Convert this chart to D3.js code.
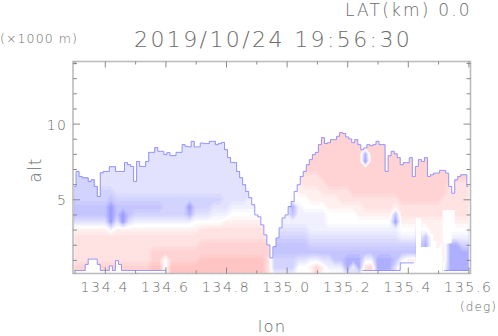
<!DOCTYPE html>
<html>
<head>
<meta charset="utf-8">
<script src="https://cdn.jsdelivr.net/npm/d3@7"></script>
<style>
html, body { margin: 0; padding: 0; background: #fff; }
svg { display: block; }
text { font-family: "DejaVu Sans", sans-serif; font-weight: 200; fill: #6a6a6a; opacity: 0.99; }
</style>
</head>
<body>
<div id="chart"></div>
<script>
// ---- tick labels / titles
const lonTicks = [134.4, 134.6, 134.8, 135.0, 135.2, 135.4, 135.6]
const lonMinor = [134.3, 134.5, 134.7, 134.9, 135.1, 135.3, 135.5]
const altTicks = [5, 10]
const altMinor = [1, 2, 3, 4, 6, 7, 8, 9, 11, 12, 13, 14]

// ---- columns of the shaded field (deg) and its rows (x1000 m)
const fieldLon = [134.30,134.32,134.34,134.36,134.38,134.40,134.42,134.44,134.46,134.48,134.50,134.52,134.54,134.56,134.58,134.60,134.62,134.64,134.66,134.68,134.70,134.72,134.74,134.76,134.78,134.80,134.82,134.84,134.86,134.88,134.90,134.92,134.94,
  134.96,134.98,135.00,135.02,135.04,135.06,135.08,135.10,135.12,135.14,135.16,135.18,135.20,135.22,135.24,135.26,135.28,135.30,135.32,135.34,135.36,135.38,135.40,135.42,135.44,135.46,135.48,135.50,135.52,135.54,135.56,135.58,135.60]
const fieldAlt = [0,0.5,1,1.5,2,2.5,3,3.5,4,4.5,5,5.5,6,6.5,7,7.5,8,8.5,9,9.5]

// ---- field values, one list per altitude, negative = blue, positive = red
const alt00 = [3,3,3,3,3,3,3,3,3,3,3,3,3,4,4,0,4,4,4,4,4,4,4,4,4,4,4,4,4,4,4,4,2,
  -1,-1,-1,-1,0,0,0,3,0,0,0,0,-2,-2,-2,2,2,-4,-4,-4,0,2,0,0,0,0,0,0,0,-5,-5,-5,-5]
const alt05 = [3,3,3,3,3,3,3,3,3,3,3,3,3,4,4,0,4,4,4,4,4,4,4,4,4,4,4,4,4,4,4,4,2,
  -3,-3,-3,-3,0,0,1,3,1,-1,-1,-1,-5,-1,-5,2,3,-5,-5,-5,-2,2,0,0,0,0,0,0,0,-5,-5,-5,-5]
const alt10 = [2,2,2,2,2,2,2,2,2,2,2,2,2,3,3,0,3,3,3,3,3,4,4,4,4,4,4,4,4,4,4,4,2,
  -3,-3,-3,-3,-2,-2,-1,-1,-2,-2,-4,-4,-5,-5,-5,-1,-1,-5,-5,-5,-4,-1,1,1,1,1,1,1,1,-5,-5,-5,-5]
const alt15 = [2,2,2,2,2,2,2,2,2,2,2,2,2,3,3,3,3,3,3,3,3,3,3,3,3,3,3,3,3,3,3,3,3,
  -4,-4,-4,-4,-4, -4,-4,-4,-4,-4, -4,-4,-4,-4,-4, -4,-4,-4,-4,-4, -4,-4,-4,-4,-4, -5,1,1,1,-5,-5,-5,-5]
const alt20 = [2,2,2,2,2,2,2,2,2,2,2,2,2,2,2,2,2,2,2,2,2,3,3,3,3,3,3,3,3,3,3,3,3,
  -4,-4,-4,-4,-4,-4, -3,-3,-3,-3,-3, -3,-3,-3,-3,-3, -3,-3,-3,-3,-3, -3,-3,-3,-3, -5,1,1,1,-5,-5,-3,-3]
const alt25 = [2,2,2,2,2,2,2,2,2,2,2,2,2,2,2,2,2,2,2,2,2,2,2,2,2,2,2,2,2,2,2,2,2,
  -3,-3,-3,-3,-3,-3, -2,-2,-2,-2,-2, -2,-2,-2,-2,-2, -2,-2,-2,-2,-2, -1,-1,-1,-1, -4,1,1,1,-1,-1,-1,-1]
const alt30 = [1,1,1,1,1,1,-1,1,1,1,1,1,1,1,1,1,1,1,1,1,1,2,2,2,2,2,2,2,2,2,2,2,2,
  -2,-2,-2,-2,-2,-2, -1,-1,-1,-1,-1, -1,-1,-1,-1,-1, -1,-1,-1,-1,-1, 0,0,0,0,0, 1,1,1,0,0,0,0]
const alt35 = [-2,-2,-2,-2,-2,-2,-6,-2,-6,-2,-1,-1,-1,-1,-1,-1,-1,-1,-1,-1,0,0,0,0,0,1,1,1,1,1,1,1,1,
  -1,-1,-1,-1,-1,-1,-1,-1,-1, 0,0,0,0,0,0,0,0,0,0,0, -6, 1,1,1,1,1,1,1,1,1,1,1,1]
const alt40 = [-4,-4,-4,-4,-4,-4,-6,-4,-6,-4,-3,-3,-3,-3,-3,-3,-3,-3,-3,-5,-2,-2,-2,-1,-1,-1,0,0,0,0,0,0,0,
  -1,-1,-1,-4,-1,-1,-1,-1,-1, 0,0,0,0,0, 1,1,1,1,1,1, -4, 2,2,2,2,2,2,2,2,2,2,2,2]
const alt45 = [-4,-4,-4,-4,-4,-4,-6,-4,-4,-4,-4,-4,-4,-4,-4,-3,-3,-3,-3,-6,-3,-3,-3,-2,-2,-2,-1,-1,-1,-1,-1,-1,-1,
  -1,-1,-1,-5,-1, 0,0,0,0, 1,1,1,1,1,1, 2,2,2,2,2, 1, 2,2,2,2,2,2,2,2,2,2,2,2]
const alt50 = [-3,-3,-3,-3,-3,-3,-4,-3,-3,-3,-3,-3,-3,-3,-3,-3,-3,-3,-3,-3,-3,-3,-3,-3,-3,-2,-2,-2,-2,-1,-1,-1,-1,
  -1,-1,-1, 0,0,0, 1,1,1,1,1, 2,2,2,2,2,2,2,2,2,2, 3,3,3,3,3,3,3, 2,2,2,2,2]
const alt55 = [-3,-3,-3,-3,-3,-3,-3,-2,-2,-2,-2,-2,-2,-2,-2,-2,-2,-2,-2,-2,-2,-2,-2,-2,-2,-2,-2,-2,-2,-2,-2,-2,-2,
  0,0,0,0, 1,1,1,1, 2,2,2,2,2, 3,3,3,3,3,3,3,3,3,3,3,3,3,3,3,3, 2,2,2,2]
const alt60 = [-3,-3,-3,-3,-2,-2,-2,-2,-2,-2,-2,-2,-2,-2,-2,-2,-2,-2,-2,-2,-2,-2,-2,-2,-2,-2,-2,-2,-2,-2,-2,-2,-2,
  1,1,1,1,1, 2,2,2,2, 3,3,3,3,3,3,3,3,3,3,3,3,3,3,3,3,3,3,3,3, 2,2,2,2]
const alt65 = [-3,-3,-3,-3,-2,-2,-2,-2,-2,-2,-2,-2,-2,-2,-2,-2,-2,-2,-2,-2,-2,-2,-2,-2,-2,-2,-2,-2,-2,-2,-2,-2,-2,
  3,3,3,3,3, 2,2,2, 3,3,3,3,3,3,3,3,3,3,3,3,3,3,3,3,3,3,3,3,3,3,3,3,3]
const alt70 = [-2,-2,-2,-2,-2,-2,-2,-2,-2,-2,-2,-2,-2,-2,-2,-2,-2,-2,-2,-2,-2,-2,-2,-2,-2,-2,-2,-2,-2,-2,-2,-2,-2,
  3,3,3,3,3,3,3,3,3,3,3,3,3,3,3,3,3,3,3,3,3,3,3,3,3,3,3,3,3,3,3,3,3]
const alt75 = [-2,-2,-2,-2,-2,-2,-2,-2,-2,-2,-2,-2,-2,-2,-2,-2,-2,-2,-2,-2,-2,-2,-2,-2,-2,-2,-2,-2,-2,-2,-2,-2,-2,
  3,3,3,3,3,3,3,3,3,3,3,3,3,3,3,-6,3,3,3,3,3,3,3,3,3,3,3,3,3,3,3,3,3]
const alt80 = [-2,-2,-2,-2,-2,-2,-2,-2,-2,-2,-2,-2,-2,-2,-2,-2,-2,-2,-2,-2,-2,-2,-2,-2,-2,-2,-2,-2,-2,-2,-2,-2,-2,
  3,3,3,3,3,3,3,3,3,3,3,3,3,3,3,-5,3,3,3,3,3,3,3,3,3,3,3,3,3,3,3,3,3]
const alt85 = [-2,-2,-2,-2,-2,-2,-2,-2,-2,-2,-2,-2,-2,-2,-2,-2,-2,-2,-2,-2,-2,-2,-2,-2,-2,-2,-2,-2,-2,-2,-2,-2,-2,
  3,3,3,3,3,3,3,3,3,3,3,3,3,3,3,3,3,3,3,3,3,3,3,3,3,3,3,3,3,3,3,3,3]
const alt90 = alt85
const alt95 = alt85

// ---- data edges, every 0.01 deg: top of the echo and its lower edge (x1000 m)
const maskLon = [134.30,134.31,134.32,134.33,134.34,134.35,134.36,134.37,134.38,134.39,134.40,134.41,134.42,134.43,134.44,134.45,134.46,134.47,134.48,134.49,
  134.50,134.51,134.52,134.53,134.54,134.55,134.56,134.57,134.58,134.59,134.60,134.61,134.62,134.63,134.64,134.65,134.66,134.67,134.68,134.69,
  134.70,134.71,134.72,134.73,134.74,134.75,134.76,134.77,134.78,134.79,134.80,134.81,134.82,134.83,134.84,134.85,134.86,134.87,134.88,134.89,
  134.90,134.91,134.92,134.93,134.94,134.95,134.96,134.97,134.98,134.99,135.00,135.01,135.02,135.03,135.04,135.05,135.06,135.07,135.08,135.09,
  135.10,135.11,135.12,135.13,135.14,135.15,135.16,135.17,135.18,135.19,135.20,135.21,135.22,135.23,135.24,135.25,135.26,135.27,135.28,135.29,
  135.30,135.31,135.32,135.33,135.34,135.35,135.36,135.37,135.38,135.39,135.40,135.41,135.42,135.43,135.44,135.45,135.46,135.47,135.48,135.49,
  135.50,135.51,135.52,135.53,135.54,135.55,135.56,135.57,135.58,135.59,135.60]
const topAlt = [5.85,6.84,6.51,6.42,6.42,6.18,6.29,5.85,5.19,6.75,6.84,6.84,7.15,7.15,6.84,6.84,6.84,7.42,7.28,7.17,
  6.18,7.5,7.17,7.17,7.5,8.1,8.1,8.41,8.17,8.17,7.95,8.08,7.88,7.88,8.1,8.1,8.61,8.5,8.46,8.83,
  8.46,8.46,8.72,8.68,8.68,8.83,8.83,8.61,8.68,8.76,8.28,7.75,7.44,7.42,6.84,6.42,5.96,5.52,5.1,4.64,
  3.97,3.84,3.31,2.65,1.99,1.13,1.87,2.45,3.11,3.77,3.97,4.52,4.85,5.52,5.96,6.51,6.84,7.28,7.62,7.95,
  8.1,8.61,9.07,8.68,8.74,8.94,8.94,9.16,9.4,9.34,9.12,8.99,8.74,8.94,8.61,8.28,8.39,8.61,8.54,8.61,
  8.83,8.61,8.61,6.84,7.88,8.17,8.0,7.75,7.28,7.42,7.42,7.75,6.51,7.17,7.62,7.5,7.75,6.51,6.62,6.73,
  6.73,6.91,6.91,6.73,5.85,5.4,6.29,6.51,6.62,6.62,5.85]
const baseAlt = [0.3,0.3,0.3,0.3,0.7,1.05,1.05,1.05,0.7,0.3,0.3,0.3,0.6,0.3,0.95,0.7,0.3,0.3,0.3,0.3,
  0.3,0.3,0.3,0.3,0.3,0.3,0.3,0.3,0.3,0.3,0.3,0.1,0.1,0.1,0.1,0.1,0.1,0.1,0.1,0.1,
  0.1,0.1,0.1,0.1,0.1,0.1,0.1,0.1,0.1,0.1,0.1,0.1,0.1,0.1,0.1,0.1,0.1,0.1,0.1,0.1,
  0.1,0.1,0.1,0.1,0.1,0.1,0.1,0.1,0.1,0.1,0.1,0.1,0.1,0.1,0.1,0.1,0.1,0.1,0.1,0.1,
  0.1,0.1,0.1,0.1,0.1,0.1,0.1,0.1,0.1,0.1,0.1,0.1,0.1,0.1,0.1,0.3,0.3,0.3,0.3,0.3,
  0.3,0.3,0.3,0.3,0.3,0.3,0.3,0.3,0.8,0.8,0.8,0.8,0.8,3.77,3.77,1.85,1.85,1.85,2.76,2.25,
  1.8,2.1,0.3,0.3,0.3,0.3,0.3,0.3,0.3,0.3,0.3]

// ---- holes inside the echo
const gapLonFrom = [135.515, 135.545]
const gapLonTo = [135.545, 135.555]
const gapAltFrom = [2.1, 3.0]
const gapAltTo = [4.3, 4.3]

const width = 498
const height = 336
const margin = {top: 61.5, right: 27.5, bottom: 62.5, left: 73}

const x = d3.scaleLinear().domain([134.295, 135.607]).range([margin.left, width - margin.right])
const y = d3.scaleLinear().domain([0.1, 14.1]).range([height - margin.bottom, margin.top])

const shade = d3.scaleLinear().domain([-6, -4, 0, 4, 6]).range(['#9a9aff', '#c4c4ff', '#ffffff', '#ffc4c4', '#ffa8a8'])
const levels = d3.range(-6.25, 6, 0.5)

let svg = d3.select('#chart')
  .append('svg')
  .attr('width', width)
  .attr('height', height)

const echo = maskLon.map((lon, i) => ({lon: lon, top: topAlt[i], base: baseAlt[i]}))

const echoArea = d3.area()
  .x(d => x(d.lon))
  .y0(d => y(d.base))
  .y1(d => y(d.top))
  .curve(d3.curveStep)

svg.append('clipPath').attr('id', 'echo-clip')
  .append('path')
  .attr('d', echoArea(echo))

// grid index -> data units, then through the chart scales
const rows = [alt00, alt05, alt10, alt15, alt20, alt25, alt30, alt35, alt40, alt45, alt50, alt55, alt60, alt65, alt70, alt75, alt80, alt85, alt90, alt95]
const nx = fieldLon.length
const ny = fieldAlt.length
rows.forEach((r, i) => { if (r.length != nx) throw new Error('row ' + i + ' has ' + r.length) })

const gridLon = d3.scaleLinear().domain([0.5, nx - 0.5]).range([fieldLon[0], fieldLon[nx - 1]])
const gridAlt = d3.scaleLinear().domain([0.5, ny - 0.5]).range([fieldAlt[0], fieldAlt[ny - 1]])

const bands = d3.contours().size([nx, ny]).thresholds(levels)(rows.flat())

const toScreen = d3.geoTransform({
  point: function(a, b) { this.stream.point(x(gridLon(a)), y(gridAlt(b))) }
})
const contourPath = d3.geoPath(toScreen)

let shaded = svg.append('g').attr('clip-path', 'url(#echo-clip)')

shaded.selectAll('path')
  .data(bands)
  .join('path')
  .attr('d', contourPath)
  .attr('fill', d => shade(d.value + 0.25))

let holes = svg.append('g')
gapLonFrom.forEach((lon, i) => {
  holes.append('rect')
    .attr('x', x(lon))
    .attr('y', y(gapAltTo[i]))
    .attr('width', x(gapLonTo[i]) - x(lon))
    .attr('height', y(gapAltFrom[i]) - y(gapAltTo[i]))
    .attr('fill', '#fff')
})

// thin blue edge of the echo
const edge = '#8c8cff'
svg.append('path')
  .attr('d', d3.line().x(d => x(d.lon)).y(d => y(d.top)).curve(d3.curveStep)(echo))
  .attr('fill', 'none').attr('stroke', edge).attr('stroke-width', 0.9)

svg.append('path')
  .attr('d', d3.line().defined(d => d.base > 0.1 && d.base < 1.2).x(d => x(d.lon)).y(d => y(d.base)).curve(d3.curveStep)(echo))
  .attr('fill', 'none').attr('stroke', edge).attr('stroke-width', 0.9)

// frame
svg.append('rect')
  .attr('x', margin.left)
  .attr('y', margin.top)
  .attr('width', width - margin.left - margin.right)
  .attr('height', height - margin.top - margin.bottom)
  .attr('fill', 'none')
  .attr('stroke', '#bcbcbc')
  .attr('stroke-width', 1.6)

// axes
const axisColor = '#8a8a8a'
function drawAxis(axis, tx, ty) {
  let g = svg.append('g')
    .attr('transform', 'translate(' + tx + ',' + ty + ')')
    .call(axis)
  g.select('.domain').remove()
  g.selectAll('.tick line').attr('stroke', axisColor)
  return g
}

const xBase = height - margin.bottom
drawAxis(d3.axisBottom(x).tickValues(lonTicks).tickSize(-6).tickFormat(''), 0, xBase)
drawAxis(d3.axisBottom(x).tickValues(lonMinor).tickSize(-3).tickFormat(''), 0, xBase)
drawAxis(d3.axisTop(x).tickValues(lonTicks).tickSize(-6).tickFormat(''), 0, margin.top)
drawAxis(d3.axisTop(x).tickValues(lonMinor).tickSize(-3).tickFormat(''), 0, margin.top)
drawAxis(d3.axisLeft(y).tickValues(altTicks).tickSize(-7).tickFormat(''), margin.left, 0)
drawAxis(d3.axisLeft(y).tickValues(altMinor).tickSize(-4).tickFormat(''), margin.left, 0)
drawAxis(d3.axisRight(y).tickValues(altTicks).tickSize(-7).tickFormat(''), width - margin.right, 0)
drawAxis(d3.axisRight(y).tickValues(altMinor).tickSize(-4).tickFormat(''), width - margin.right, 0)

// tick labels
svg.selectAll('.lon-label')
  .data(lonTicks)
  .join('text')
  .attr('class', 'lon-label')
  .attr('x', d => x(d))
  .attr('y', 292)
  .attr('text-anchor', 'middle')
  .style('font-size', '14px')
  .style('letter-spacing', '1.7px')
  .text(d => d.toFixed(1))

svg.selectAll('.alt-label')
  .data(altTicks)
  .join('text')
  .attr('class', 'alt-label')
  .attr('x', 67)
  .attr('y', d => y(d) + 6)
  .attr('text-anchor', 'end')
  .style('font-size', '14px')
  .style('letter-spacing', '1.2px')
  .text(d => d)

function label(str, px, py, size, spacing, anchor) {
  return svg.append('text')
    .attr('x', px)
    .attr('y', py)
    .attr('text-anchor', anchor || 'start')
    .style('font-size', size + 'px')
    .style('letter-spacing', spacing + 'px')
    .text(str)
}

label('LAT(km) 0.0', 345, 16, 17, 2.2)
label('2019/10/24 19:56:30', 134, 47, 22, 2.4)
label('(\u00d71000 m)', 0, 43, 12.5, 1.1)
label('(deg)', 460, 311, 12, 1.1)
label('lon', 272, 332, 16.5, 1.2, 'middle')
label('alt', 0, 0, 17, 1.2, 'middle')
  .attr('x', null).attr('y', null)
  .attr('transform', 'translate(41,170) rotate(-90)')
</script>
</body>
</html>
